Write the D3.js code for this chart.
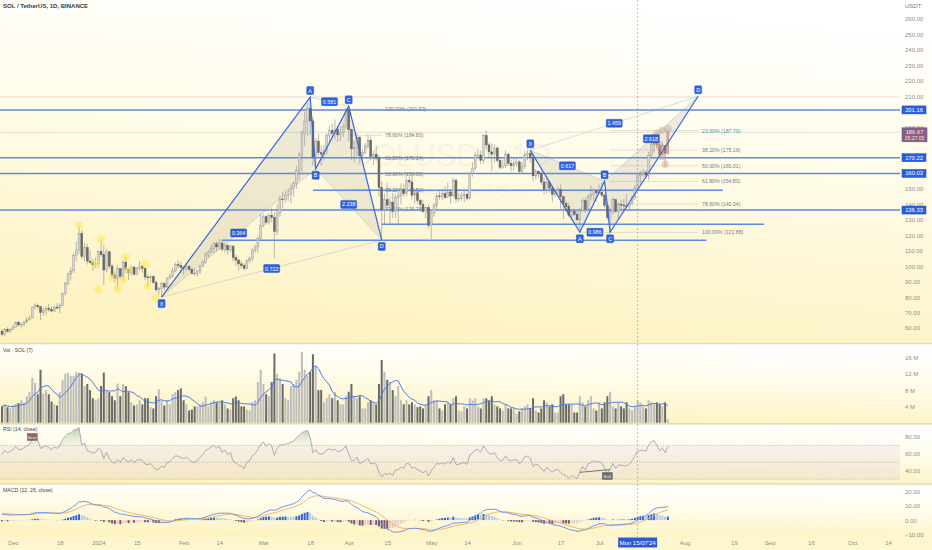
<!DOCTYPE html>
<html><head><meta charset="utf-8">
<script src="https://cdn.jsdelivr.net/npm/d3@7"></script>
<style>
body{margin:0;background:#fff}
svg{display:block}
text{font-family:"Liberation Sans",Arial,sans-serif}
</style>
</head><body>
<svg id="c" width="932" height="550"></svg>
<script>
// ================= DATA =================
const startDate = "2023-11-27";
const firstOpen = 57.9;
// daily closes Nov 27 2023 – Jul 26 2024
const closes = [
55.9,59.1,57.8,59.2,
60.3,63.6,62.0,62.3,63.8,65.3,66.5,73.5,74.5,73.8,70.0,71.5,72.8,71.9,71.0,73.5,72.9,74.7,82.2,88.9,94.9,97.0,107.0,110.5,121.0,106.3,112.1,103.3,102.5,100.8,101.5,
109.6,107.5,97.5,109.3,100.1,94.2,92.0,98.4,93.4,102.6,97.8,95.6,99.4,94.8,98.6,100.1,98.5,93.0,92.5,93.4,89.5,84.7,85.4,88.8,86.5,92.2,93.5,96.9,101.0,100.5,99.3,
98.5,99.8,98.0,95.5,95.3,97.0,100.0,102.5,107.5,109.2,111.5,114.5,112.5,115.0,111.0,113.5,110.5,113.0,105.5,104.0,101.5,100.5,98.5,103.5,105.0,110.5,112.5,118.0,126.5,
132.0,128.5,133.0,131.5,122.5,134.5,143.5,143.0,146.0,146.5,150.5,153.5,162.0,172.0,186.0,193.5,202.0,194.0,170.5,181.0,173.5,172.5,175.0,184.5,188.0,186.0,188.5,185.0,186.5,190.5,201.0,
188.5,176.0,176.5,183.5,171.5,173.5,177.5,181.5,171.0,172.5,170.0,151.0,136.5,143.0,139.5,141.5,135.5,144.5,145.5,149.5,147.0,155.5,154.5,146.0,147.5,142.5,140.0,135.5,138.0,126.5,
134.5,139.5,145.5,145.0,147.0,144.5,148.0,145.5,155.5,143.5,144.0,146.0,146.5,144.0,160.0,163.5,171.5,172.0,168.5,184.5,178.5,174.0,172.5,176.5,168.5,164.0,165.0,172.5,166.5,165.0,166.5,
167.5,161.5,164.5,172.0,173.0,170.5,158.5,161.5,160.0,154.5,149.5,154.5,150.5,146.5,148.5,149.5,145.0,140.5,138.5,133.0,135.5,133.5,130.0,136.0,142.5,137.0,145.0,146.5,149.0,147.5,
148.0,146.0,139.5,131.5,135.5,143.0,135.5,140.0,139.5,139.0,138.5,140.5,144.5,150.5,158.5,159.5,160.5,159.0,171.5,179.0,183.0,178.5,172.5,178.0,173.0,186.67
];
const highs = [
59.5,60.0,60.5,59.9,
62.0,64.2,64.8,63.5,64.5,67.0,68.0,74.0,76.0,75.8,74.0,73.0,74.0,75.5,74.0,74.5,76.0,76.0,83.0,90.0,96.0,99.5,108.5,116.0,126.0,123.5,115.0,114.5,110.5,105.0,105.5,
110.0,117.0,114.0,111.0,110.0,101.5,96.5,100.5,98.5,104.0,106.0,99.0,100.5,100.0,99.5,103.5,101.0,99.5,94.5,94.0,94.0,90.5,86.5,90.0,89.5,93.0,95.5,99.0,102.5,104.0,103.0,
100.0,101.5,100.5,99.0,98.5,97.5,100.5,104.0,109.0,110.5,114.0,115.5,116.0,117.5,117.2,115.0,114.5,114.0,113.5,107.5,105.0,103.5,102.0,104.5,106.5,111.5,114.0,120.0,134.0,
133.5,133.0,134.5,138.0,135.0,140.0,145.5,148.0,149.0,150.0,153.0,155.0,165.0,174.0,188.0,200.0,206.0,209.5,196.0,183.0,185.5,178.0,178.5,186.0,190.5,192.5,195.0,191.0,190.5,193.0,202.5,
203.5,189.0,181.5,186.0,184.0,176.0,179.5,185.0,183.5,174.5,178.0,172.0,155.0,147.0,154.0,145.0,147.5,146.5,148.0,153.5,153.0,157.5,158.0,158.5,149.5,149.5,144.0,143.0,138.5,140.0,
136.0,141.0,147.5,148.5,149.0,152.0,154.0,150.0,157.0,157.0,147.5,148.0,150.0,149.0,161.0,167.0,173.5,176.0,175.0,185.5,188.0,180.0,179.5,178.5,177.5,170.0,169.0,175.0,173.5,169.0,169.5,
169.5,168.5,167.5,174.5,175.5,175.5,173.0,163.0,162.0,161.5,157.5,158.5,155.5,152.5,149.5,151.5,153.0,145.0,142.5,141.0,136.5,137.0,135.5,137.5,144.0,144.5,146.5,152.5,150.5,150.0,
153.0,154.5,147.5,141.5,138.0,144.5,143.5,141.5,143.0,143.5,146.5,141.5,146.0,152.5,160.5,162.0,163.0,162.5,174.0,181.5,184.5,186.0,180.5,180.0,178.5,187.5
];
const lows = [
54.5,54.9,57.0,56.8,
58.9,60.1,61.0,59.5,61.0,63.5,64.7,66.0,72.0,72.1,65.0,68.0,68.5,70.5,70.0,70.5,72.0,69.5,74.0,81.0,87.5,91.0,95.5,103.0,108.0,104.5,103.0,101.0,101.5,97.0,98.5,
99.0,106.0,88.0,96.0,98.5,92.0,89.0,85.0,91.5,90.5,95.5,91.0,94.0,94.0,94.5,97.0,96.0,91.0,86.5,89.5,88.5,83.5,81.5,80.0,84.5,85.5,91.5,92.5,96.0,98.5,95.5,
94.5,97.0,97.0,94.5,94.0,93.5,95.0,99.5,101.5,105.5,108.5,108.5,109.5,110.5,109.5,108.5,107.5,109.0,103.0,100.0,97.0,98.5,97.5,98.0,102.0,103.0,108.5,108.5,116.5,
125.0,127.0,127.0,128.5,105.0,120.0,132.0,137.5,141.0,142.0,140.5,145.0,150.0,156.0,161.0,178.0,184.0,185.0,165.0,163.0,171.0,165.0,168.5,172.0,180.0,184.0,182.0,180.5,181.0,183.5,189.0,
181.0,168.5,168.0,171.0,166.5,168.5,172.5,176.5,168.5,165.5,168.5,145.0,117.0,127.0,136.0,127.5,131.0,131.5,126.5,140.0,145.0,145.5,151.0,143.0,140.5,140.5,135.5,134.5,131.0,124.5,
117.5,132.0,137.0,143.0,142.5,143.5,145.5,140.5,144.5,141.0,141.5,142.5,141.5,142.5,143.5,158.0,162.0,170.5,166.0,166.5,175.5,170.5,161.5,167.0,167.0,162.5,163.0,163.5,165.0,161.5,162.0,
164.0,159.5,160.5,163.0,168.5,167.0,155.0,156.0,157.0,152.5,146.5,147.0,147.5,141.5,144.5,146.5,137.0,130.5,135.0,131.5,129.5,132.5,129.5,122.0,135.0,134.5,136.5,142.5,142.5,142.0,
146.5,144.5,137.5,130.0,121.9,133.5,134.5,130.0,137.0,136.0,137.5,136.0,139.5,143.0,150.5,153.5,158.0,156.5,155.5,170.0,173.5,176.0,170.0,170.5,164.5,172.5
];
// daily volume, millions of SOL
const volumes = [
4.0,4.5,3.8,3.5,
4.2,4.6,4.8,5.5,4.9,6.5,7.5,11.0,9.8,7.0,13.0,7.2,8.0,7.0,5.2,4.5,4.2,7.5,10.5,12.0,12.2,11.5,11.5,12.5,12.3,12.0,9.0,9.5,8.0,6.0,5.5,
6.0,9.0,12.3,8.0,7.5,6.5,5.5,9.6,6.5,9.5,9.0,7.5,5.0,4.2,4.5,5.5,4.5,6.0,6.0,3.8,3.5,6.5,8.2,5.5,4.2,5.5,4.5,7.0,7.5,8.0,8.4,
5.5,4.5,3.0,3.2,4.0,4.0,4.5,5.0,6.4,4.0,5.0,5.5,5.0,5.0,5.5,4.5,3.5,3.2,6.0,6.4,5.5,4.0,4.0,3.2,3.0,5.0,5.5,10.0,13.0,
9.5,7.0,6.5,10.0,17.0,12.0,11.0,9.5,6.0,5.5,9.0,9.5,10.5,12.5,17.4,13.0,11.5,12.5,16.8,14.0,8.0,8.0,5.0,6.0,7.0,6.0,7.5,5.5,4.5,4.5,6.5,
7.6,9.5,6.5,6.0,6.5,3.5,3.5,5.0,5.5,5.0,4.5,9.5,15.4,12.5,10.5,10.0,8.0,6.5,9.0,5.5,4.5,5.5,4.5,5.0,4.5,3.8,4.0,3.5,4.5,6.5,
8.0,5.5,5.5,3.5,3.0,4.5,5.0,4.5,6.0,6.5,3.0,2.8,4.0,3.5,6.0,5.5,6.0,4.0,3.5,6.0,6.0,5.5,6.5,4.5,4.0,3.5,3.0,4.5,3.5,3.5,3.5,
2.2,2.8,3.5,4.0,4.5,3.5,6.0,3.0,2.5,3.5,5.5,5.0,4.0,4.5,2.5,2.5,6.5,7.0,4.5,4.5,4.5,2.5,2.5,6.5,5.0,4.0,5.5,6.5,3.5,3.0,
5.0,3.5,5.0,6.5,7.6,4.0,3.5,5.0,4.0,3.5,5.0,3.5,3.0,4.0,5.5,5.0,4.0,3.5,5.5,5.0,4.5,5.0,4.5,4.0,5.0,0.8
];
// closes Oct 28 – Nov 26 2023 (off-screen, only to warm up RSI / MACD)
const warmupCloses = [33.6,35.0,38.5,40.4,42.3,39.9,40.6,41.3,39.6,39.6,43.0,45.2,46.1,55.6,56.2,52.7,53.8,62.8,56.0,57.0,59.2,60.6,58.1,56.4,58.0,58.7,59.0,58.8,57.0,57.9];

const priceTicks = [260,250,240,230,220,210,190,150,140,130,120,110,100,90,80,70,60];
const levelPrices = [201.16,170.22,160.03,136.33];
const segLevelPrices = [149.2,127.1,116.8];
const segLevelStarts = ["2024-03-19","2024-04-13","2024-02-15"];
const segLevelEnds = ["2024-08-15","2024-08-30","2024-08-09"];
const faintLevelPrices = [209.5];

const patternNames = ["X","A","B","C","D"];
const p1Dates = ["2024-01-24","2024-03-18","2024-03-20","2024-04-01","2024-04-13"];
const p1Prices = [80.0,209.5,163.0,203.5,117.0];
const p1Ratios = ["0.364","0.581","2.238","0.722"]; // XB, AC, BD, XD
const p2Dates = ["2024-06-06","2024-06-24","2024-07-03","2024-07-05","2024-08-06"];
const p2Prices = [175.0,122.0,155.0,121.9,210.0];
const p2Ratios = ["0.617","0.986","2.618","1.459"];

const fib1Pcts = ["100.00%","78.60%","61.80%","50.00%","38.20%","23.60%"];
const fib1Prices = [201.53,184.83,170.14,159.83,149.52,136.76];
const fib2Pcts = ["23.60%","38.20%","50.00%","61.80%","78.60%","100.00%"];
const fib2Prices = [187.79,175.19,165.01,154.83,140.34,121.88];

const yellowMarkDates = ["2023-12-25","2024-01-02","2024-01-01","2023-12-31","2024-01-11","2024-01-08","2024-01-06","2024-01-10","2024-01-12","2024-01-18","2024-01-19","2024-01-22"];
const yellowMarkPrices = [126.7,117.4,85.0,101.4,106.1,85.2,92.2,91.1,97.5,101.4,87.2,79.2];
const pinkMarkDates = ["2024-07-21","2024-07-22","2024-07-24","2024-07-26","2024-07-23","2024-07-24","2024-07-25"];
const pinkMarkPrices = [183.5,186.0,188.0,189.0,178.4,171.0,166.0];
const pinkCandleFrom = "2024-07-21";

const xTickDates = ["2023-12-01","2023-12-18","2024-01-01","2024-01-15","2024-02-01","2024-02-14","2024-03-01","2024-03-18","2024-04-01","2024-04-15","2024-05-01","2024-05-14","2024-06-01","2024-06-17","2024-07-01","2024-08-01","2024-08-19","2024-09-01","2024-09-16","2024-10-01","2024-10-14"];
const xTickLabels = ["Dec","18","2024","15","Feb","14","Mar","18","Apr","15","May","14","Jun","17","Jul","Aug","19","Sep","16","Oct","14"];
const crosshairDate = "2024-07-15";
const crosshairLabel = "Mon 15/07'24";
const volTicks = [4,8,12,16];
const volTickLabels = ["4 M","8 M","12 M","16 M"];
const rsiTicks = [40,60,80];
const macdTicks = [-10,0,10,20];
const bearDate = "2024-12-08".replace("2024","2023"), bullDate = "2024-07-04";
const divFrom = "2024-06-24", divTo = "2024-07-05";

// ================= SETUP =================
const svg = d3.select("#c");
const W = 932, H = 550, PR = 900;
const parse = d3.utcParse("%Y-%m-%d");
const start = parse(startDate);
const n = closes.length;
const dates = d3.utcDay.range(start, d3.utcDay.offset(start, n));
const opens = closes.map((c,i)=> i===0 ? firstOpen : closes[i-1]);
const idx = d3.range(n);

const x = d3.scaleUtc().domain([parse("2023-12-01"), parse("2024-10-14")]).range([13, 888]);
const yP = d3.scaleLinear().domain([60,260]).range([328,19]);
const yV = d3.scaleLinear().domain([0,16]).range([422.7,357.5]);
const yR = d3.scaleLinear().domain([40,80]).range([470.7,437]);
const yM = d3.scaleLinear().domain([-10,20]).range([534.5,491.3]);

const panes = [[0,343],[344,423.5],[424.5,483.5],[484.5,537]];

const defs = svg.append("defs");
const gr = defs.append("linearGradient").attr("id","bg").attr("x1",0.62).attr("y1",0).attr("x2",0.38).attr("y2",1);
gr.append("stop").attr("offset",0).attr("stop-color","#ffffff");
gr.append("stop").attr("offset",0.4).attr("stop-color","#fffcea");
gr.append("stop").attr("offset",1).attr("stop-color","#fdf2c0");
const gg = defs.append("linearGradient").attr("id","ob").attr("x1",0).attr("y1",0).attr("x2",0).attr("y2",1);
gg.append("stop").attr("offset",0).attr("stop-color","#7fa07a").attr("stop-opacity",0.55);
gg.append("stop").attr("offset",1).attr("stop-color","#cfe0c4").attr("stop-opacity",0.2);
panes.forEach((p,i)=>{
  defs.append("clipPath").attr("id","cp"+i).append("rect").attr("x",0).attr("y",p[0]).attr("width",PR).attr("height",p[1]-p[0]);
});

svg.append("rect").attr("width",W).attr("height",H).attr("fill","#fef6cf");
panes.forEach(p=>{
  svg.append("rect").attr("x",0).attr("y",p[0]).attr("width",W).attr("height",p[1]-p[0]).attr("fill","url(#bg)");
});
// pane separators
[343.5,423.8,484].forEach(yy=>{
  svg.append("line").attr("x1",0).attr("x2",W).attr("y1",yy).attr("y2",yy).attr("stroke","#e2dcbf").attr("stroke-width",1.6);
});

const gMain = svg.append("g").attr("clip-path","url(#cp0)");

// watermark
gMain.append("text").attr("x",451).attr("y",166).attr("text-anchor","middle").attr("font-size",31).attr("fill","rgba(0,0,0,0.055)").text("SOLUSDT, 1D");
gMain.append("text").attr("x",448).attr("y",196).attr("text-anchor","middle").attr("font-size",15).attr("fill","rgba(0,0,0,0.055)").text("Solana / TetherUS");

// faint lines
faintLevelPrices.forEach(p=>{
  gMain.append("line").attr("x1",0).attr("x2",PR).attr("y1",yP(p)).attr("y2",yP(p)).attr("stroke","rgba(150,150,150,0.28)").attr("stroke-width",1);
});
gMain.append("line").attr("x1",0).attr("x2",PR).attr("y1",yP(closes[n-1])).attr("y2",yP(closes[n-1])).attr("stroke","rgba(150,150,150,0.28)").attr("stroke-width",1);

// fib lines & labels
function fib(pcts, prices, d0, d1, lx){
  prices.forEach((p,i)=>{
    gMain.append("line").attr("x1",x(parse(d0))).attr("x2",x(parse(d1))).attr("y1",yP(p)).attr("y2",yP(p)).attr("stroke","rgba(150,150,150,0.35)").attr("stroke-width",0.8);
    gMain.append("text").attr("x",lx).attr("y",yP(p)+2).attr("font-size",5.2).attr("fill", pcts[i]==="23.60%" ? "#4a9aa0" : "#7a7a7a").text(pcts[i]+" ("+p.toFixed(2)+")");
  });
}
fib(fib1Pcts, fib1Prices, "2024-04-01", "2024-04-13", 385);
fib(fib2Pcts, fib2Prices, "2024-07-05", "2024-08-06", 702);

// harmonic patterns (fills, thin lines)
function patternBase(ds, ps){
  const pts = ds.map((d,i)=>[x(parse(d)), yP(ps[i])]);
  const tri = [[0,1,2],[2,3,4]];
  tri.forEach(t=>{
    gMain.append("path").attr("d", d3.line()(t.map(k=>pts[k]))+"Z").attr("fill","rgba(170,165,150,0.2)").attr("stroke","none");
  });
  [[0,2],[1,3],[2,4],[0,4]].forEach(s=>{
    gMain.append("line").attr("x1",pts[s[0]][0]).attr("y1",pts[s[0]][1]).attr("x2",pts[s[1]][0]).attr("y2",pts[s[1]][1]).attr("stroke","rgba(130,150,200,0.4)").attr("stroke-width",0.8);
  });
  return pts;
}
const pts1 = patternBase(p1Dates, p1Prices);
const pts2 = patternBase(p2Dates, p2Prices);

// horizontal levels
levelPrices.forEach(p=>{
  gMain.append("line").attr("x1",0).attr("x2",PR).attr("y1",yP(p)).attr("y2",yP(p)).attr("stroke","#5f89e6").attr("stroke-width",1.5);
});
segLevelPrices.forEach((p,i)=>{
  gMain.append("line").attr("x1",x(parse(segLevelStarts[i]))).attr("x2",x(parse(segLevelEnds[i]))).attr("y1",yP(p)).attr("y2",yP(p)).attr("stroke","#5f89e6").attr("stroke-width",1.5);
});

// candles
const cw = 1.9;
const pinkStart = parse(pinkCandleFrom);
const cg = gMain.append("g");
cg.selectAll("line.w").data(idx).join("line")
  .attr("x1",i=>x(dates[i])).attr("x2",i=>x(dates[i]))
  .attr("y1",i=>yP(highs[i])).attr("y2",i=>yP(lows[i]))
  .attr("stroke",i=> dates[i]>=pinkStart ? "#a97b72" : "#8c8c8c").attr("stroke-width",0.6);
cg.selectAll("rect.b").data(idx).join("rect")
  .attr("x",i=>x(dates[i])-cw/2).attr("width",cw)
  .attr("y",i=>yP(Math.max(opens[i],closes[i])))
  .attr("height",i=>Math.max(0.6, Math.abs(yP(opens[i])-yP(closes[i]))))
  .attr("fill",i=>{const up=closes[i]>=opens[i]; if(dates[i]>=pinkStart) return up?"#dcbcb2":"#a0716a"; return up?"#d6d6d6":"#6c6c6c";})
  .attr("stroke",i=>{const up=closes[i]>=opens[i]; if(dates[i]>=pinkStart) return "#a06f66"; return up?"#979797":"#595959";})
  .attr("stroke-width",0.45);

// markers
yellowMarkDates.forEach((d,i)=>{
  gMain.append("circle").attr("cx",x(parse(d))).attr("cy",yP(yellowMarkPrices[i])).attr("r",4).attr("fill","rgba(255,232,90,0.55)");
});
pinkMarkDates.forEach((d,i)=>{
  gMain.append("circle").attr("cx",x(parse(d))).attr("cy",yP(pinkMarkPrices[i])).attr("r",3.8).attr("fill","rgba(205,165,150,0.45)");
});

// pattern solid legs and labels
function box(g, cx, cy, txt, w){
  g.append("rect").attr("x",cx-w/2).attr("y",cy-4).attr("width",w).attr("height",8).attr("rx",1).attr("fill","#2f62e0").attr("stroke","#1c46b8").attr("stroke-width",0.4);
  g.append("text").attr("x",cx).attr("y",cy+2).attr("text-anchor","middle").attr("font-size",5.4).attr("fill","#fff").text(txt);
}
function patternTop(pts, ratios, ups){
  gMain.append("path").attr("d", d3.line()(pts)).attr("fill","none").attr("stroke","#3567dd").attr("stroke-width",1.2);
  const segs = [[0,2],[1,3],[2,4],[0,4]];
  segs.forEach((s,i)=>{
    const mx=(pts[s[0]][0]+pts[s[1]][0])/2, my=(pts[s[0]][1]+pts[s[1]][1])/2;
    box(gMain, mx, my, ratios[i], 16);
  });
  pts.forEach((p,i)=>{
    box(gMain, p[0], p[1] + (ups[i] ? -6.5 : 6.5), patternNames[i], 7);
  });
}
patternTop(pts1, p1Ratios, [false,true,false,true,false]);
patternTop(pts2, p2Ratios, [true,false,true,false,true]);

// ================= VOLUME =================
const gVol = svg.append("g").attr("clip-path","url(#cp1)");
gVol.selectAll("rect").data(idx).join("rect")
  .attr("x",i=>x(dates[i])-1).attr("width",2)
  .attr("y",i=>yV(volumes[i])).attr("height",i=>yV(0)-yV(volumes[i]))
  .attr("fill",i=> closes[i]>=opens[i] ? "#bdbdbd" : "#6a6a6a");
const volMA = idx.map(i=>d3.mean(volumes.slice(Math.max(0,i-6), i+1)));
gVol.append("path").attr("d", d3.line().x(i=>x(dates[i])).y(i=>yV(volMA[i]))(idx)).attr("fill","none").attr("stroke","#4a7bef").attr("stroke-width",1);

// ================= INDICATORS =================
const allC = warmupCloses.concat(closes);
const off = warmupCloses.length;
function ema(vals, p){ const k=2/(p+1); let e=null; return vals.map(v=>{ if(v==null) return null; e = (e==null)? v : v*k + e*(1-k); return e; }); }
function rsiCalc(vals, p){
  const out = vals.map(()=>null); let ag=0, al=0;
  for(let i=1;i<vals.length;i++){
    const ch = vals[i]-vals[i-1], g=Math.max(ch,0), l=Math.max(-ch,0);
    if(i<=p){ ag+=g/p; al+=l/p; if(i===p) out[i]=100-100/(1+ag/al); }
    else { ag=(ag*(p-1)+g)/p; al=(al*(p-1)+l)/p; out[i]= al===0?100:100-100/(1+ag/al); }
  }
  return out;
}
const rsiAll = rsiCalc(allC, 14);
const rsi = rsiAll.slice(off);
const e12 = ema(allC,12), e26 = ema(allC,26);
const macdAll = allC.map((_,i)=>e12[i]-e26[i]);
const sigAll = ema(macdAll, 9);
const macd = macdAll.slice(off), sig = sigAll.slice(off);
const hist = macd.map((m,i)=>m-sig[i]);
const histPrev = macdAll.map((m,i)=>m-sigAll[i]).slice(off-1, off-1+n);

// RSI pane
const gR = svg.append("g").attr("clip-path","url(#cp2)");
gR.append("rect").attr("x",0).attr("width",PR).attr("y",yR(70)).attr("height",yR(30)-yR(70)).attr("fill","rgba(126,87,194,0.07)");
[70,50,30].forEach(v=>{
  gR.append("line").attr("x1",0).attr("x2",PR).attr("y1",yR(v)).attr("y2",yR(v)).attr("stroke","#a9a49a").attr("stroke-width",0.6).attr("stroke-dasharray","1.5,1.5");
});
gR.append("path").attr("d", d3.area().x(i=>x(dates[i])).y0(yR(70)).y1(i=>yR(Math.max(70,rsi[i])))(idx)).attr("fill","url(#ob)");
gR.append("path").attr("d", d3.line().x(i=>x(dates[i])).y(i=>yR(rsi[i]))(idx)).attr("fill","none").attr("stroke","#9c98b6").attr("stroke-width",0.8);
// divergence line
const di0 = dates.findIndex(d=>+d===+parse(divFrom)), di1 = dates.findIndex(d=>+d===+parse(divTo));
gR.append("line").attr("x1",x(dates[di0])).attr("y1",yR(rsi[di0])).attr("x2",x(dates[di1])).attr("y2",yR(rsi[di1])).attr("stroke","#666").attr("stroke-width",0.9);
function tag(g, cx, cy, txt, fill){
  g.append("rect").attr("x",cx-5).attr("y",cy-3.5).attr("width",10).attr("height",7).attr("fill",fill).attr("stroke","#555").attr("stroke-width",0.4);
  g.append("text").attr("x",cx).attr("y",cy+1.8).attr("text-anchor","middle").attr("font-size",4.2).attr("fill","#eee").text(txt);
}
tag(gR, x(parse(bearDate)), 437, "Bear", "#8e6464");
tag(gR, x(parse(bullDate)), 476, "Bull", "#6d6d6d");

// MACD pane
const gM = svg.append("g").attr("clip-path","url(#cp3)");
gM.selectAll("rect").data(idx).join("rect")
  .attr("x",i=>x(dates[i])-1).attr("width",2)
  .attr("y",i=> hist[i]>=0 ? yM(hist[i]) : yM(0))
  .attr("height",i=> Math.abs(yM(hist[i])-yM(0)))
  .attr("fill",i=>{ const h=hist[i], p=histPrev[i]; if(h>=0) return h>=p ? "#2f64dc" : "#b5c9f2"; return h<p ? "#7d5767" : "#e6cbd0"; });
gM.append("path").attr("d", d3.line().x(i=>x(dates[i])).y(i=>yM(sig[i]))(idx)).attr("fill","none").attr("stroke","#efb765").attr("stroke-width",1);
gM.append("path").attr("d", d3.line().x(i=>x(dates[i])).y(i=>yM(macd[i]))(idx)).attr("fill","none").attr("stroke","#6f95f0").attr("stroke-width",1);

// crosshair
const cx = x(parse(crosshairDate));
svg.append("line").attr("x1",cx).attr("x2",cx).attr("y1",0).attr("y2",537).attr("stroke","#8a94b0").attr("stroke-width",0.6).attr("stroke-dasharray","2,2");

// ================= AXES =================
function styleAxis(g){
  g.select(".domain").remove();
  g.selectAll("text").attr("font-size",6).attr("fill","#8d8d8d").attr("font-family","Liberation Sans, Arial, sans-serif");
}
svg.append("g").attr("transform","translate(905,0)")
  .call(d3.axisRight(yP).tickValues(priceTicks).tickFormat(d3.format(".2f")).tickSize(0).tickPadding(0))
  .call(styleAxis);
svg.append("text").attr("x",905).attr("y",8).attr("font-size",6).attr("fill","#777").text("USDT");
svg.append("g").attr("transform","translate(905,0)")
  .call(d3.axisRight(yV).tickValues(volTicks).tickFormat((d,i)=>volTickLabels[i]).tickSize(0).tickPadding(0))
  .call(styleAxis);
svg.append("g").attr("transform","translate(905,0)")
  .call(d3.axisRight(yR).tickValues(rsiTicks).tickFormat(d3.format(".2f")).tickSize(0).tickPadding(0))
  .call(styleAxis);
svg.append("g").attr("transform","translate(905,0)")
  .call(d3.axisRight(yM).tickValues(macdTicks).tickFormat(d3.format(".2f")).tickSize(0).tickPadding(0))
  .call(styleAxis);
svg.append("g").attr("transform","translate(0,541)")
  .call(d3.axisBottom(x).tickValues(xTickDates.map(parse)).tickFormat((d,i)=>xTickLabels[i]).tickSize(0).tickPadding(0))
  .call(styleAxis);

// level price boxes
levelPrices.forEach(p=>{
  svg.append("rect").attr("x",902).attr("y",yP(p)-4).attr("width",24).attr("height",8).attr("fill","#2a5fe0").attr("stroke","#1a46c0").attr("stroke-width",0.5);
  svg.append("text").attr("x",914).attr("y",yP(p)+2).attr("text-anchor","middle").attr("font-size",5.8).attr("fill","#fff").text(p.toFixed(2));
});
// last price box
const lp = closes[n-1];
svg.append("rect").attr("x",902).attr("y",yP(lp)-4.5).attr("width",25).attr("height",14).attr("fill","#8a5f7c").attr("stroke","#3f5fd0").attr("stroke-width",0.6);
svg.append("text").attr("x",914.5).attr("y",yP(lp)+1.5).attr("text-anchor","middle").attr("font-size",5.8).attr("fill","#fde8e8").text(lp.toFixed(2));
svg.append("text").attr("x",914.5).attr("y",yP(lp)+7.5).attr("text-anchor","middle").attr("font-size",5).attr("fill","#fde8e8").text("15:27:05");
// crosshair date box
svg.append("rect").attr("x",cx-19.5).attr("y",537.5).attr("width",39).attr("height",10).attr("fill","#2a5ad8");
svg.append("text").attr("x",cx).attr("y",544.5).attr("text-anchor","middle").attr("font-size",6).attr("fill","#fff").text(crosshairLabel);

// titles
svg.append("text").attr("x",3).attr("y",8).attr("font-size",6).attr("font-weight","bold").attr("fill","#3a3a3a").text("SOL / TetherUS, 1D, BINANCE");
svg.append("text").attr("x",3).attr("y",352).attr("font-size",5.2).attr("fill","#444").text("Vol · SOL (7)");
svg.append("text").attr("x",3).attr("y",431).attr("font-size",5.2).attr("fill","#444").text("RSI (14, close)");
svg.append("text").attr("x",3).attr("y",492).attr("font-size",5.2).attr("fill","#444").text("MACD (12, 26, close)");
</script>
</body></html>
